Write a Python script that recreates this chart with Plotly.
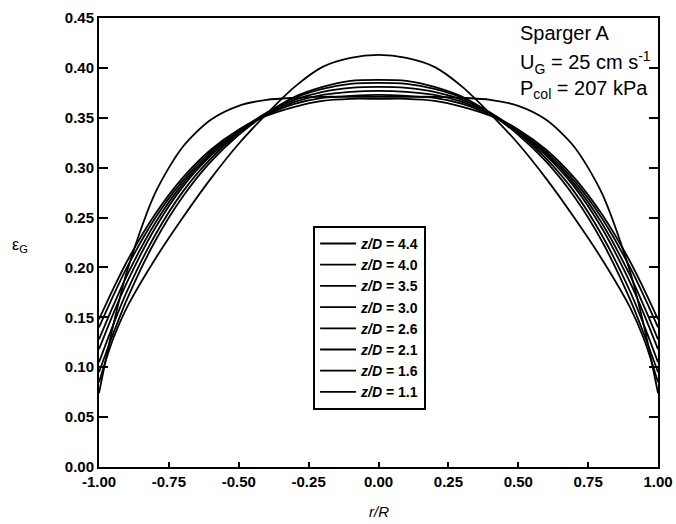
import plotly.graph_objects as go

r_R = [-1.0, -0.95, -0.9, -0.8, -0.7, -0.6, -0.5, -0.4, -0.3, -0.2, -0.1, 0.0,
       0.1, 0.2, 0.3, 0.4, 0.5, 0.6, 0.7, 0.8, 0.9, 0.95, 1.0]

eps_zD_4_4 = [0.148, 0.178, 0.206, 0.253, 0.290, 0.318, 0.338, 0.352, 0.361, 0.367, 0.369, 0.369,
              0.369, 0.367, 0.361, 0.352, 0.338, 0.318, 0.290, 0.253, 0.206, 0.178, 0.148]
eps_zD_4_0 = [0.140, 0.171, 0.200, 0.249, 0.287, 0.316, 0.338, 0.353, 0.364, 0.370, 0.372, 0.373,
              0.372, 0.370, 0.364, 0.353, 0.338, 0.316, 0.287, 0.249, 0.200, 0.171, 0.140]
eps_zD_3_5 = [0.128, 0.161, 0.192, 0.244, 0.284, 0.314, 0.337, 0.354, 0.366, 0.373, 0.376, 0.377,
              0.376, 0.373, 0.366, 0.354, 0.337, 0.314, 0.284, 0.244, 0.192, 0.161, 0.128]
eps_zD_3_0 = [0.118, 0.153, 0.185, 0.239, 0.281, 0.312, 0.336, 0.355, 0.368, 0.376, 0.380, 0.381,
              0.380, 0.376, 0.368, 0.355, 0.336, 0.312, 0.281, 0.239, 0.185, 0.153, 0.118]
eps_zD_2_6 = [0.105, 0.142, 0.176, 0.232, 0.276, 0.309, 0.335, 0.355, 0.370, 0.379, 0.384, 0.385,
              0.384, 0.379, 0.370, 0.355, 0.335, 0.309, 0.276, 0.232, 0.176, 0.142, 0.105]
eps_zD_2_1 = [0.095, 0.133, 0.168, 0.226, 0.271, 0.306, 0.333, 0.354, 0.371, 0.381, 0.387, 0.388,
              0.387, 0.381, 0.371, 0.354, 0.333, 0.306, 0.271, 0.226, 0.168, 0.133, 0.095]
eps_zD_1_6 = [0.074, 0.141, 0.196, 0.274, 0.321, 0.348, 0.362, 0.368, 0.370, 0.371, 0.371, 0.371,
              0.371, 0.371, 0.370, 0.368, 0.362, 0.348, 0.321, 0.274, 0.196, 0.141, 0.074]
eps_zD_1_1 = [0.085, 0.128, 0.160, 0.208, 0.250, 0.289, 0.324, 0.354, 0.381, 0.401, 0.410, 0.413,
              0.410, 0.401, 0.381, 0.354, 0.324, 0.289, 0.250, 0.208, 0.160, 0.128, 0.085]

series_labels = ["4.4", "4.0", "3.5", "3.0", "2.6", "2.1", "1.6", "1.1"]
series_values = [eps_zD_4_4, eps_zD_4_0, eps_zD_3_5, eps_zD_3_0,
                 eps_zD_2_6, eps_zD_2_1, eps_zD_1_6, eps_zD_1_1]

y_ticks = [0.00, 0.05, 0.10, 0.15, 0.20, 0.25, 0.30, 0.35, 0.40, 0.45]
x_ticks = [-1.00, -0.75, -0.50, -0.25, 0.00, 0.25, 0.50, 0.75, 1.00]
x_tick_labels = ["-1.00", "-0.75", "-0.50", "-0.25", "0.00", "0.25", "0.50", "0.75", "1.00"]

FONT = "Arial, Liberation Sans, sans-serif"

fig = go.Figure()
for lab, vals in zip(series_labels, series_values):
    fig.add_trace(go.Scatter(
        x=r_R, y=vals, mode="lines",
        name=f"<i>z/D</i> = {lab}",
        line=dict(color="black", width=1.8, shape="spline", smoothing=0.8),
    ))

fig.update_layout(
    width=676, height=524,
    margin=dict(l=99, r=18, t=18, b=57, autoexpand=False),
    paper_bgcolor="white", plot_bgcolor="white",
    font=dict(family=FONT, color="black"),
    showlegend=True,
    legend=dict(
        x=0.383, y=0.537, xanchor="left", yanchor="top",
        bordercolor="black", borderwidth=2, bgcolor="white",
        font=dict(family=FONT, size=14, color="black", weight="bold"),
        itemwidth=36, tracegroupgap=0, entrywidth=116,
    ),
)

fig.update_xaxes(
    range=[-1, 1], tickvals=x_ticks, ticktext=x_tick_labels, automargin=False,
    ticks="inside", ticklen=5, tickwidth=1.5, tickcolor="black",
    showline=True, linewidth=2, linecolor="black", mirror=True,
    showgrid=False, zeroline=False,
    tickfont=dict(family=FONT, size=15, color="black", weight="bold"),
)
fig.update_yaxes(
    range=[0, 0.45], tickvals=y_ticks, tickformat=".2f", automargin=False,
    ticks="inside", ticklen=9, tickwidth=1.5, tickcolor="black",
    showline=True, linewidth=2, linecolor="black", mirror="ticks",
    showgrid=False, zeroline=False,
    tickfont=dict(family=FONT, size=15, color="black", weight="bold"),
)

ann_font = dict(family=FONT, size=20, color="black")
fig.add_annotation(x=0.7496, y=0.967, xref="paper", yref="paper", xanchor="left",
                   yanchor="middle", text="Sparger A", showarrow=False, font=ann_font)
fig.add_annotation(x=0.7496, y=0.902, xref="paper", yref="paper", xanchor="left",
                   yanchor="middle", text="U<sub>G</sub> = 25 cm s<sup>-1</sup>",
                   showarrow=False, font=ann_font)
fig.add_annotation(x=0.7496, y=0.840, xref="paper", yref="paper", xanchor="left",
                   yanchor="middle", text="P<sub>col</sub> = 207 kPa",
                   showarrow=False, font=ann_font)

fig.add_annotation(x=-0.141, y=0.494, xref="paper", yref="paper", xanchor="center",
                   yanchor="middle", text="ε<sub>G</sub>", showarrow=False,
                   font=dict(family=FONT, size=16, color="black"))
fig.add_annotation(x=0.5, y=-0.100, xref="paper", yref="paper", xanchor="center",
                   yanchor="middle", text="<i>r/R</i>", showarrow=False,
                   font=dict(family=FONT, size=15, color="black"))

fig.write_html("out.html", config={"displayModeBar": False},
               post_script="document.body.style.margin='0';")
